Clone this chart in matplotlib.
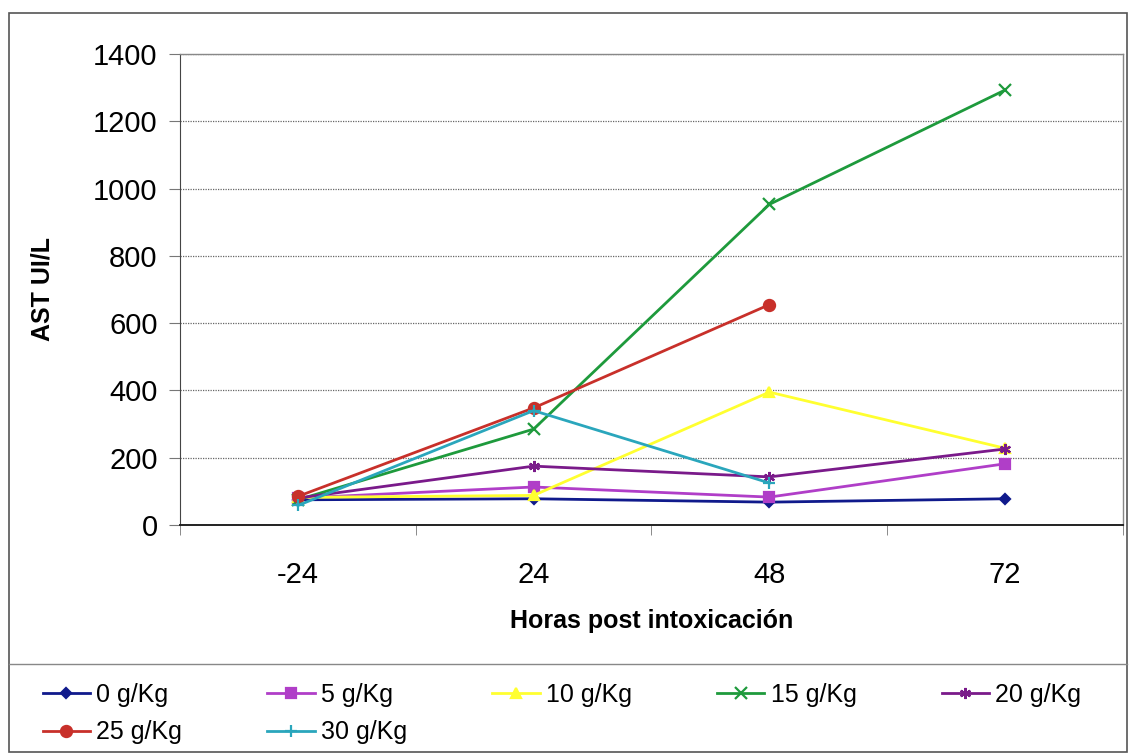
import matplotlib
matplotlib.use("Agg")
import matplotlib.pyplot as plt
import numpy as np
from matplotlib.patches import Rectangle
from matplotlib.lines import Line2D

plt.rcParams['font.family'] = ['Liberation Sans', 'DejaVu Sans']

# data
horas = ['-24', '24', '48', '72']
dosis = ['0 g/Kg', '5 g/Kg', '10 g/Kg', '15 g/Kg', '20 g/Kg', '25 g/Kg', '30 g/Kg']
ast_0 = [75, 78, 68, 78]
ast_5 = [80, 113, 83, 182]
ast_10 = [82, 88, 395, 228]
ast_15 = [75, 285, 953, 1293]
ast_20 = [80, 175, 143, 226]
ast_25 = [85, 348, 655, np.nan]
ast_30 = [58, 340, 125, np.nan]

series = [ast_0, ast_5, ast_10, ast_15, ast_20, ast_25, ast_30]
colores = ['#101a8c', '#b03ec8', '#ffff30', '#1e9a3c', '#7a1a8a', '#c8302a', '#2aa6bc']
marcas = ['D', 's', '^', 'x', (6, 2, 0), 'o', '+']
tam = [5.5, 7, 7, 8, 8, 8, 9]

fig = plt.figure(figsize=(11.29, 7.54), dpi=100)
ax = fig.add_axes([0.1594, 0.3037, 0.8353, 0.6247])

x = np.arange(len(horas))
lineas = []
for i in range(len(series)):
    l, = ax.plot(x, series[i], color=colores[i], marker=marcas[i], markersize=tam[i],
                 linewidth=2, markeredgewidth=1.6, label=dosis[i], clip_on=False)
    lineas.append(l)

ax.set_xlim(-0.5, 3.5)
ax.set_ylim(0, 1400)
ax.set_yticks(range(0, 1401, 200))
ax.set_xticks(x)
ax.set_xticklabels(horas)
ax.set_xticks(np.arange(-0.5, 3.6, 1), minor=True)
ax.tick_params(axis='x', which='major', length=0, pad=26, labelsize=21)
ax.tick_params(axis='x', which='minor', length=7, color='#777777', direction='out')
ax.tick_params(axis='y', length=8, color='#777777', labelsize=21, pad=8)
ax.grid(axis='y', color='#666666', linewidth=0.9, linestyle=(0, (1, 1)))
ax.set_axisbelow(True)

for s in ['top', 'right']:
    ax.spines[s].set_color('#888888')
    ax.spines[s].set_linewidth(1)
ax.spines['left'].set_color('#444444')
ax.spines['bottom'].set_color('#222222')
ax.spines['bottom'].set_linewidth(1.4)

ax.set_ylabel('AST UI/L', fontsize=18, fontweight='bold', labelpad=28)
ax.set_xlabel('Horas post intoxicación', fontsize=18, fontweight='bold', labelpad=14)

# marco del grafico y separador de la leyenda
fig.patches.append(Rectangle((0.008, 0.003), 0.99, 0.98, transform=fig.transFigure,
                             fill=False, edgecolor='#555555', linewidth=1.2))
fig.lines.append(Line2D([0.008, 0.998], [0.119, 0.119], transform=fig.transFigure,
                        color='#888888', linewidth=1))

orden = [0, 5, 1, 6, 2, 3, 4]
fig.legend([lineas[i] for i in orden], [dosis[i] for i in orden], ncol=5,
           loc='upper left', bbox_to_anchor=(0.029, 0.108), frameon=False,
           fontsize=18, handlelength=1.9, handletextpad=0.25, columnspacing=3.4,
           labelspacing=0.55, borderaxespad=0)

fig.savefig('out.png', dpi=100)
